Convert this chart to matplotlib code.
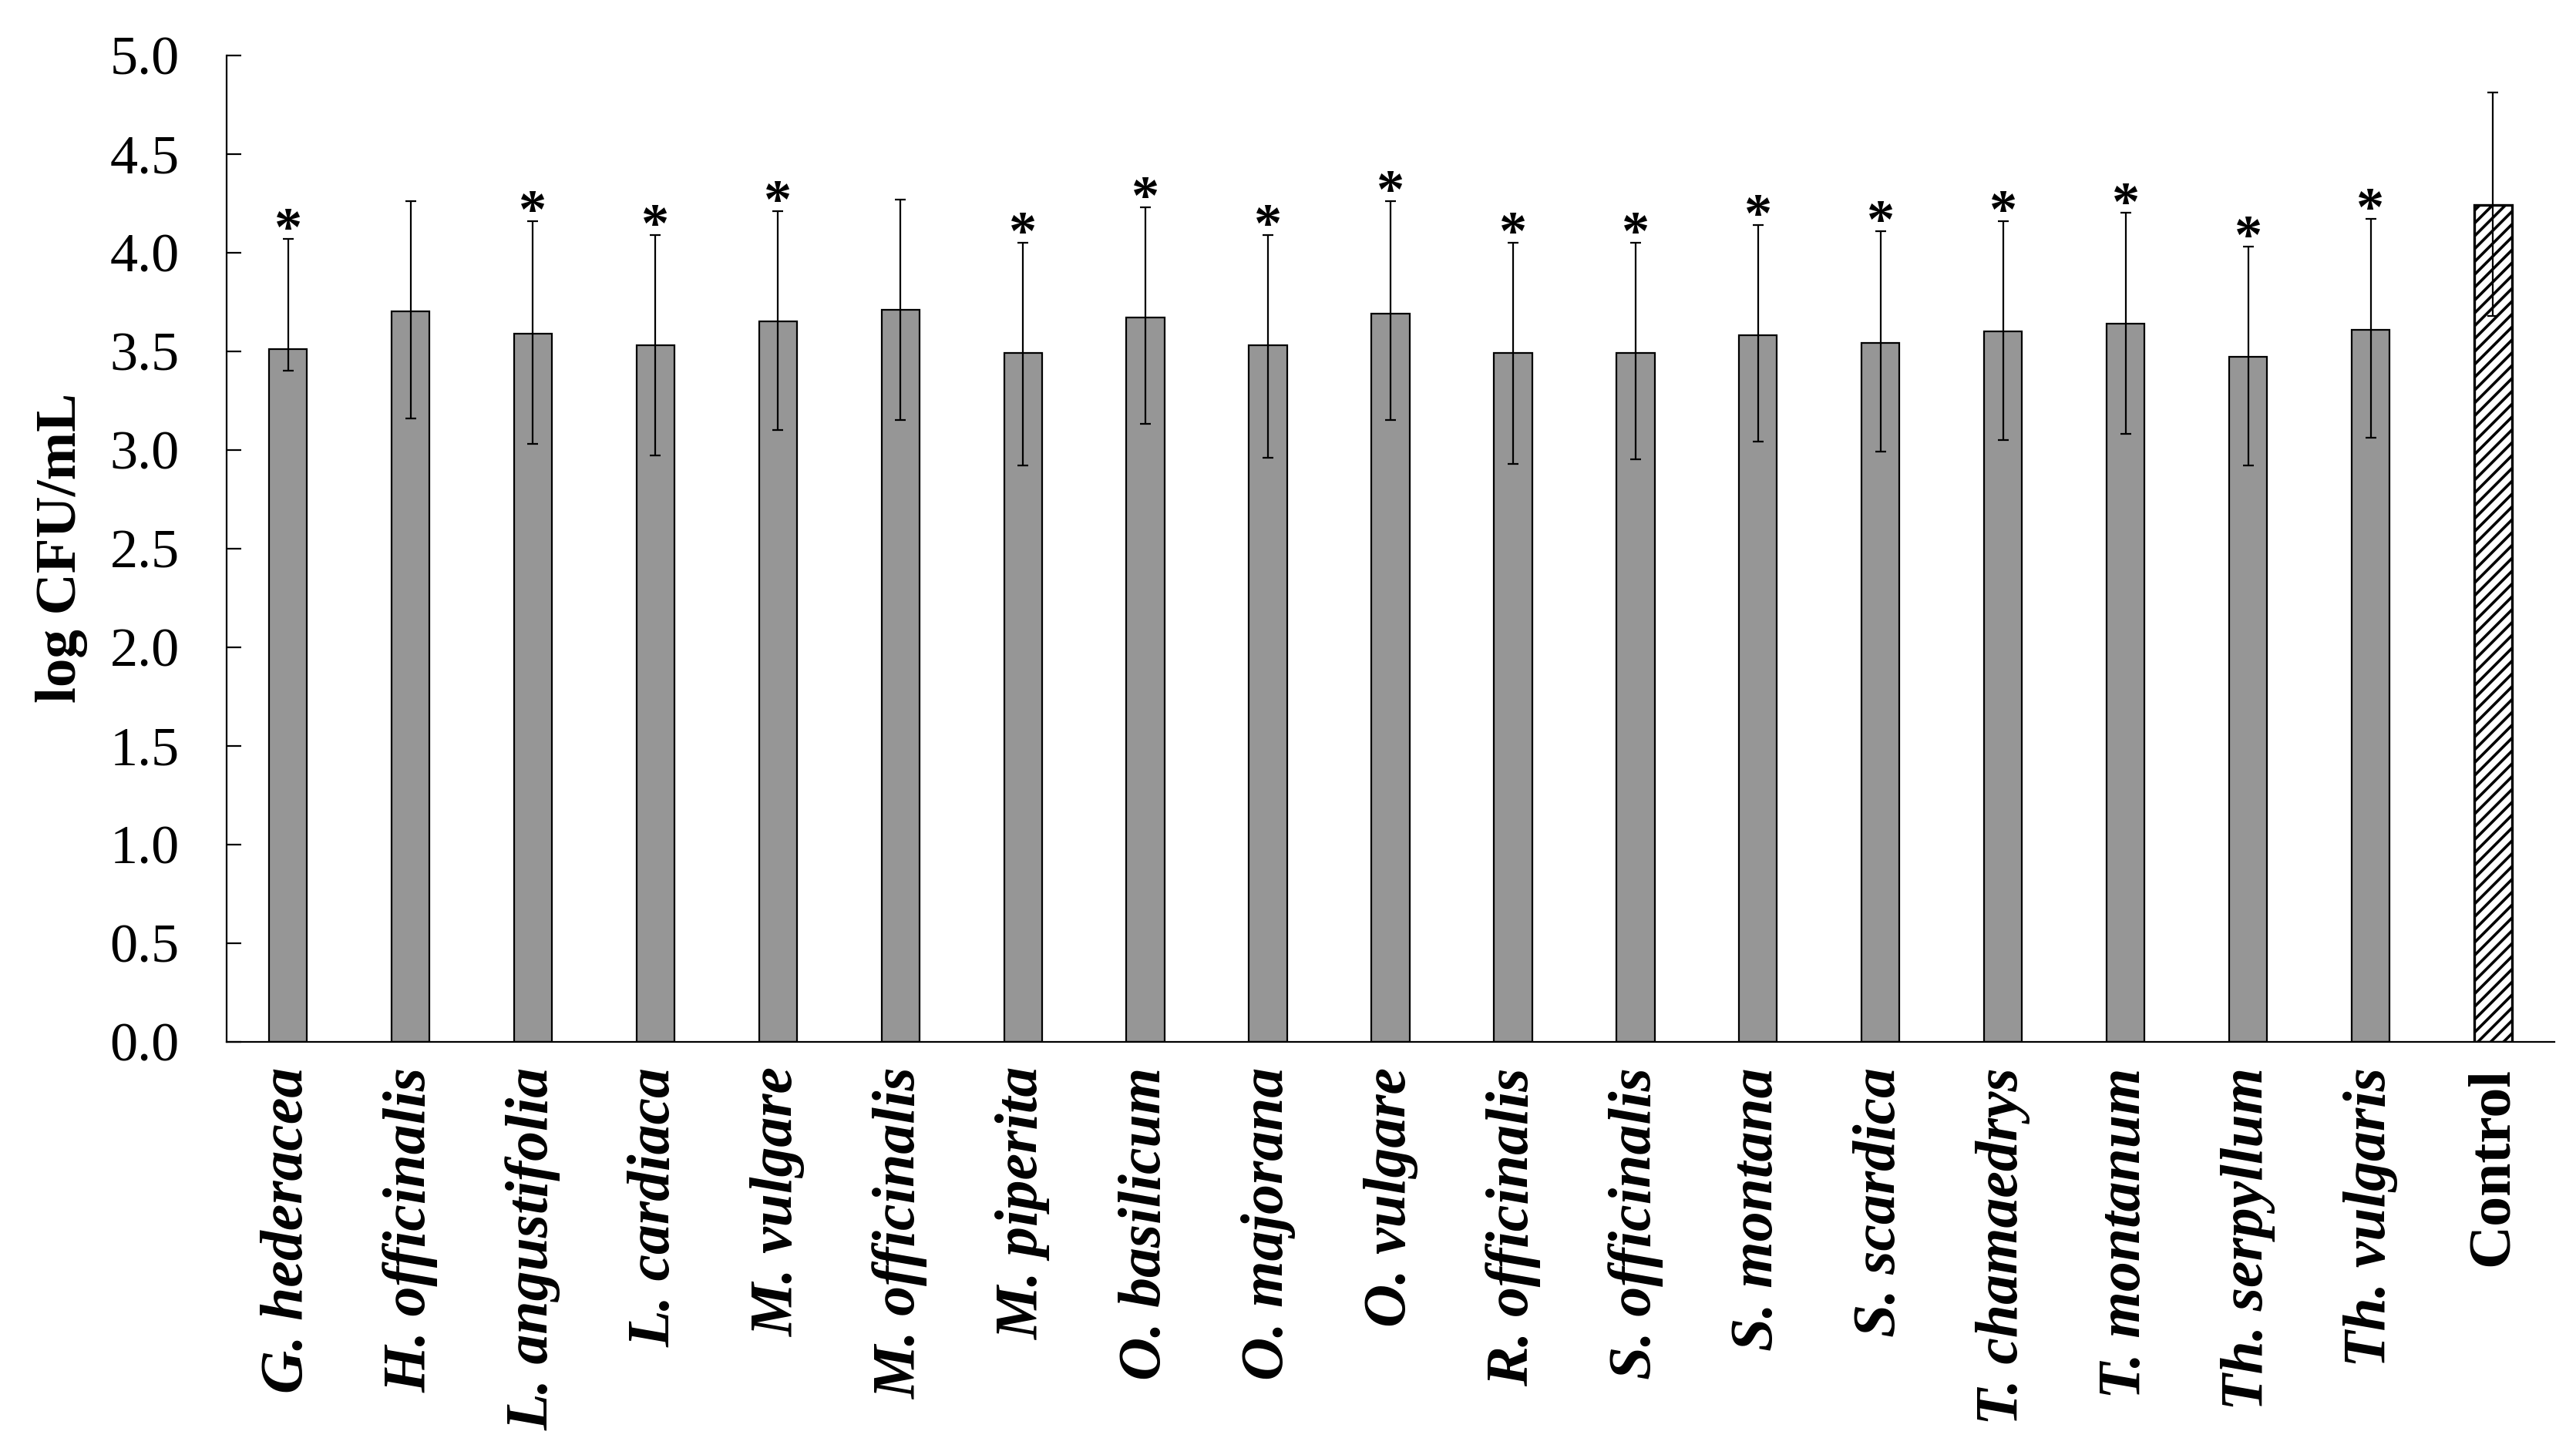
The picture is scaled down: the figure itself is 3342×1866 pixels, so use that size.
import matplotlib
matplotlib.use("Agg")
import matplotlib.pyplot as plt
import numpy as np

# --- datos ---
especies = ['G. hederacea', 'H. officinalis', 'L. angustifolia', 'L. cardiaca',
            'M. vulgare', 'M. officinalis', 'M. piperita', 'O. basilicum',
            'O. majorana', 'O. vulgare', 'R. officinalis', 'S. officinalis',
            'S. montana', 'S. scardica', 'T. chamaedrys', 'T. montanum',
            'Th. serpyllum', 'Th. vulgaris', 'Control']
log_cfu = [3.51, 3.70, 3.59, 3.53, 3.65, 3.71, 3.49, 3.67, 3.53, 3.69,
           3.49, 3.49, 3.58, 3.54, 3.60, 3.64, 3.47, 3.61, 4.24]
err_sup = [0.56, 0.56, 0.57, 0.56, 0.56, 0.56, 0.56, 0.56, 0.56, 0.57,
           0.56, 0.56, 0.56, 0.57, 0.56, 0.56, 0.56, 0.56, 0.57]
err_inf = [0.11, 0.54, 0.56, 0.56, 0.55, 0.56, 0.57, 0.54, 0.57, 0.54,
           0.56, 0.54, 0.54, 0.55, 0.55, 0.56, 0.55, 0.55, 0.56]
significativo = [True, False, True, True, True, False, True, True, True, True,
                 True, True, True, True, True, True, True, True, False]

plt.rcParams['font.family'] = ['Liberation Serif', 'DejaVu Serif']
plt.rcParams['hatch.linewidth'] = 1.3

fig = plt.figure(figsize=(16.71, 9.33), dpi=200)
ax = fig.add_axes([0.088, 0.2756, 0.9036, 0.686])

x = np.arange(len(especies))
colores = ['#969696'] * (len(especies) - 1) + ['white']
barras = ax.bar(x, log_cfu, width=0.31, color=colores, edgecolor='black',
                linewidth=0.8, zorder=2)
barras[-1].set_hatch('////')
barras[-1].set_linewidth(1.2)

ax.errorbar(x, log_cfu, yerr=[err_inf, err_sup], fmt='none', ecolor='black',
            elinewidth=0.8, capsize=2.5, capthick=0.8, zorder=3)

# asteriscos sobre las barras significativas
for xi, v, e, s in zip(x, log_cfu, err_sup, significativo):
    if s:
        ax.annotate('*', (xi, v + e), xytext=(0, -3), textcoords='offset points',
                    ha='center', va='baseline', fontsize=26, fontweight='bold')

ax.set_xlim(-0.5, len(especies) - 0.5)
ax.set_ylim(0, 5)
ax.set_yticks(np.arange(0, 5.01, 0.5))
ax.set_yticklabels(['%.1f' % t for t in np.arange(0, 5.01, 0.5)])
ax.tick_params(axis='y', direction='in', length=7, width=0.8, pad=22, labelsize=26)
ax.tick_params(axis='x', length=0, pad=12)
ax.set_xticks(x)
ax.set_xticklabels(especies, rotation=90, fontsize=28, fontweight='bold',
                   va='top', ha='center')
for lbl in ax.get_xticklabels()[:-1]:
    lbl.set_fontstyle('italic')

ax.spines['top'].set_visible(False)
ax.spines['right'].set_visible(False)
ax.spines['left'].set_linewidth(0.8)
ax.spines['bottom'].set_linewidth(0.8)

fig.text(0.024, 0.6188, 'log CFU/mL', rotation=90, ha='center', va='center',
         fontsize=27, fontweight='bold')

fig.savefig('out.png', dpi=200)
